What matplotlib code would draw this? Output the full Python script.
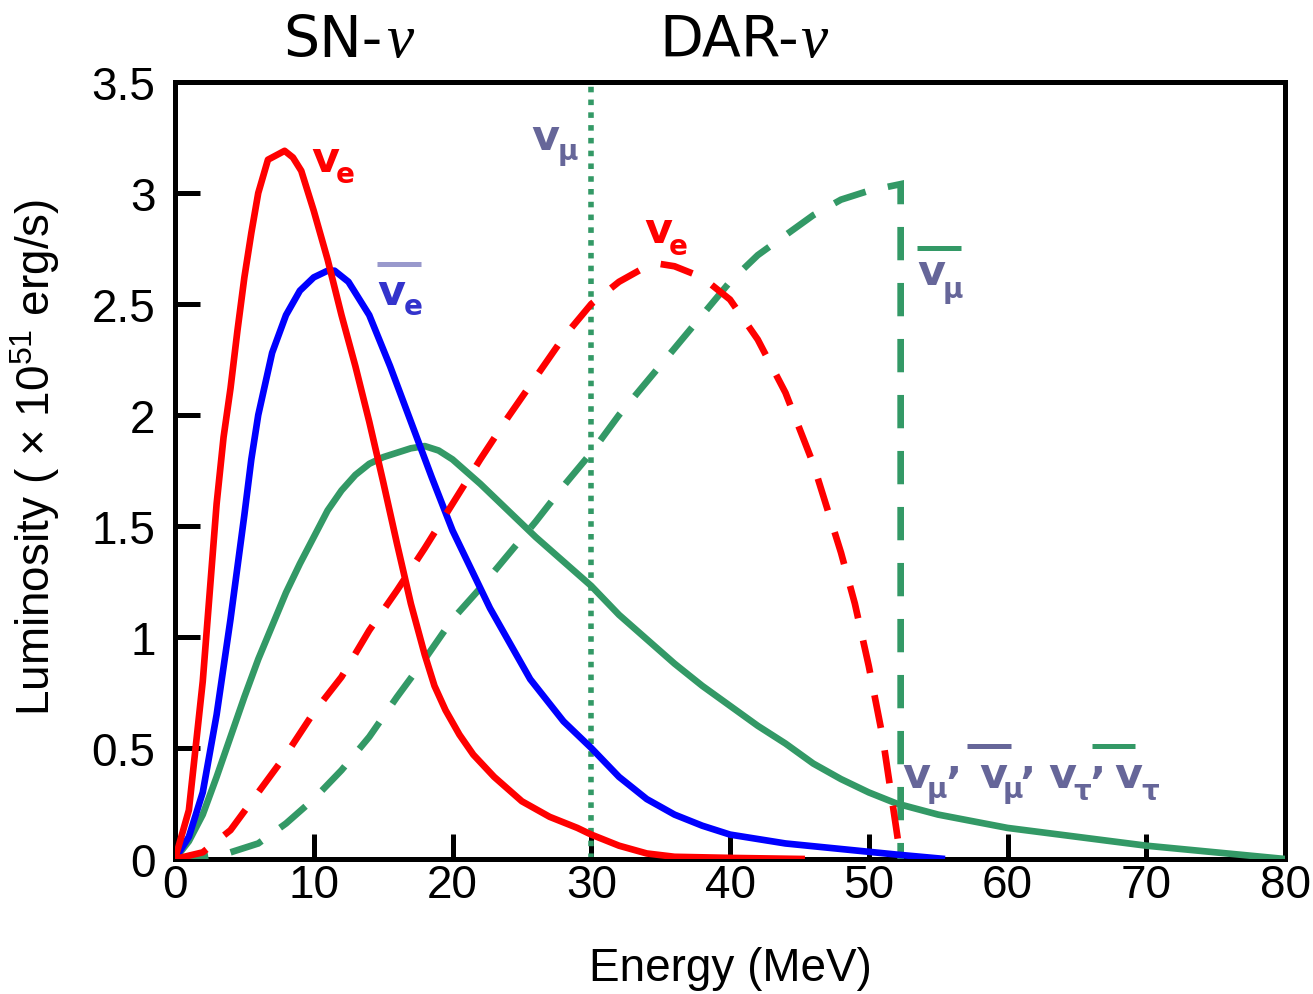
import matplotlib
matplotlib.use("Agg")
import matplotlib.pyplot as plt
from matplotlib.lines import Line2D

# ---------------- data ----------------
sn_nue_E = [0, 1, 2, 2.5, 3, 3.5, 4, 4.5, 5, 5.5, 6, 6.7, 7.3, 7.9, 8.5, 9.1, 10, 11, 12, 13,
            14, 15, 16, 17, 18, 18.7, 19.5, 20.5, 21.5, 23, 25, 27, 29, 30, 32, 34, 36, 40, 45.4]
sn_nue_L = [0, 0.22, 0.8, 1.2, 1.6, 1.9, 2.12, 2.38, 2.62, 2.82, 3.0, 3.15, 3.17, 3.19, 3.16,
            3.1, 2.92, 2.7, 2.45, 2.22, 1.97, 1.7, 1.42, 1.15, 0.92, 0.78, 0.67, 0.56, 0.47,
            0.37, 0.26, 0.19, 0.14, 0.11, 0.06, 0.025, 0.01, 0.005, 0]

sn_anue_E = [0, 1, 2, 3, 4, 5, 5.5, 6, 7, 8, 9, 10, 11, 11.5, 12.5, 14, 15.5, 17, 18.5, 20,
             22.7, 25.6, 28, 30, 32, 34, 36, 38, 40, 44, 48, 52, 55.5]
sn_anue_L = [0, 0.1, 0.3, 0.65, 1.08, 1.55, 1.8, 2.0, 2.28, 2.45, 2.56, 2.62, 2.65, 2.65, 2.6,
             2.45, 2.22, 1.97, 1.72, 1.48, 1.13, 0.81, 0.62, 0.5, 0.37, 0.27, 0.2, 0.15, 0.11,
             0.07, 0.045, 0.02, 0]

sn_nux_E = [0, 1, 2, 3, 4, 5, 6, 7, 8, 9, 10, 11, 12, 13, 14, 15, 16, 17, 18, 19, 20, 22, 24,
            26, 28, 30, 32, 34, 36, 38, 40, 42, 44, 46, 48, 50, 52, 55, 60, 65, 70, 75, 80]
sn_nux_L = [0, 0.08, 0.2, 0.37, 0.55, 0.73, 0.9, 1.05, 1.2, 1.33, 1.45, 1.57, 1.66, 1.73, 1.78,
            1.81, 1.83, 1.85, 1.86, 1.84, 1.8, 1.69, 1.57, 1.45, 1.34, 1.23, 1.1, 0.99, 0.88,
            0.78, 0.69, 0.6, 0.52, 0.43, 0.36, 0.3, 0.25, 0.2, 0.14, 0.1, 0.06, 0.03, 0]

dar_nue_E = [0, 2, 4, 6, 8, 10, 12, 14, 16, 18, 20, 22, 24, 26, 28, 30, 32, 34, 35, 36, 38,
             40, 42, 44, 46, 48, 49, 50, 51, 52, 52.3]
dar_nue_L = [0, 0.03, 0.13, 0.3, 0.47, 0.66, 0.82, 1.03, 1.21, 1.4, 1.6, 1.8, 1.99, 2.17, 2.35,
             2.5, 2.6, 2.67, 2.68, 2.67, 2.62, 2.52, 2.34, 2.1, 1.78, 1.38, 1.15, 0.87, 0.55,
             0.13, 0]

dar_anumu_E = [0, 2, 4, 6, 8, 10, 12, 14, 16, 18, 20, 22, 24, 26, 28, 30, 32, 34, 36, 38, 40,
               42, 44, 46, 48, 50, 52.3, 52.3]
dar_anumu_L = [0, 0.01, 0.03, 0.07, 0.16, 0.27, 0.4, 0.55, 0.73, 0.9, 1.08, 1.22, 1.37, 1.52,
               1.68, 1.83, 2.0, 2.15, 2.3, 2.45, 2.6, 2.72, 2.81, 2.9, 2.97, 3.01, 3.04, 0]

numu_line_E = 30

x_ticks = [0, 10, 20, 30, 40, 50, 60, 70, 80]
y_ticks = [0, 0.5, 1, 1.5, 2, 2.5, 3, 3.5]
y_tick_labels = ["0", "0.5", "1", "1.5", "2", "2.5", "3", "3.5"]

# ---------------- style ----------------
RED = "#ff0000"
BLUE = "#0000ff"
GREEN = "#339966"
SLATE = "#666699"
ABLUE = "#3333cc"
LAV = "#9999cc"

plt.rcParams["font.family"] = ["Liberation Sans", "DejaVu Sans"]
plt.rcParams["mathtext.fontset"] = "custom"
plt.rcParams["mathtext.rm"] = "Liberation Sans"
plt.rcParams["mathtext.it"] = "Liberation Sans:italic"

W, H = 1313, 995
fig = plt.figure(figsize=(W / 100, H / 100), dpi=100)
ax = fig.add_axes([175 / W, 1 - 860 / H, 1110 / W, 777 / H])

lw = 4.8
common = dict(lw=lw, solid_capstyle="butt", solid_joinstyle="round")
ax.plot(sn_nux_E, sn_nux_L, color=GREEN, zorder=3, **common)
ax.plot(sn_anue_E, sn_anue_L, color=BLUE, zorder=4, **common)
ax.plot(sn_nue_E, sn_nue_L, color=RED, zorder=5, **common)
ax.plot(dar_anumu_E, dar_anumu_L, color=GREEN, lw=lw, dashes=(5, 3.4),
        dash_capstyle="butt", dash_joinstyle="miter", zorder=3)
ax.plot(dar_nue_E, dar_nue_L, color=RED, lw=lw, dashes=(5, 3.4),
        dash_capstyle="butt", zorder=4)
ax.axvline(numu_line_E, color=GREEN, lw=4.0, dashes=(1, 1.3), dash_capstyle="butt", zorder=2)

ax.set_xlim(0, 80)
ax.set_ylim(0, 3.5)
ax.set_xticks(x_ticks)
ax.set_xticklabels([str(v) for v in x_ticks])
ax.set_yticks(y_ticks)
ax.set_yticklabels(y_tick_labels)
for s in ax.spines.values():
    s.set_linewidth(3.6)
ax.tick_params(direction="in", length=18, width=3.6, labelsize=33,
               top=False, right=False)
ax.tick_params(axis="y", pad=14)
ax.tick_params(axis="x", pad=3)

ax.set_xlabel("Energy (MeV)", fontsize=33, labelpad=28)
ax.set_ylabel(r"Luminosity ( × 10$^{51}$ erg/s)", fontsize=33)
ax.yaxis.set_label_coords((62 - 175) / 1110, (860 - 457) / 777)

# ---------------- annotations (figure-pixel placement) ----------------
def ftext(px, py, s, **kw):
    fig.text(px / W, 1 - py / H, s, **kw)

def fbar(x0, x1, py, color):
    fig.add_artist(Line2D([x0 / W, x1 / W], [1 - py / H] * 2, transform=fig.transFigure,
                          color=color, lw=3.6, solid_capstyle="butt"))

BIG = dict(fontsize=31, fontweight="bold", family="DejaVu Sans", va="baseline", ha="center")
SUB = dict(fontsize=20, fontweight="bold", family="DejaVu Sans", va="baseline", ha="center")

# titles
ftext(283, 57, "SN-", fontsize=41, family="DejaVu Sans", ha="left", va="baseline")
ftext(386, 57, "ν", fontsize=44, family="Liberation Serif", style="italic",
      ha="left", va="baseline")
ftext(659, 57, "DAR-", fontsize=41, family="DejaVu Sans", ha="left", va="baseline")
ftext(800, 57, "ν", fontsize=44, family="Liberation Serif", style="italic",
      ha="left", va="baseline")

# SN nu_e
ftext(325, 172, "v", color=RED, **BIG)
ftext(345, 183, "e", color=RED, **SUB)
# SN anti nu_e
fbar(377, 421, 265, LAV)
ftext(391, 305, "v", color=ABLUE, **BIG)
ftext(413, 315, "e", color=ABLUE, **SUB)
# DAR nu_mu
ftext(545, 150, "v", color=SLATE, **BIG)
ftext(568, 160, "μ", color=SLATE, **SUB)
# DAR nu_e
ftext(658, 243, "v", color=RED, **BIG)
ftext(678, 255, "e", color=RED, **SUB)
# DAR anti nu_mu
fbar(917, 961, 249, GREEN)
ftext(931, 285, "v", color=SLATE, **BIG)
ftext(953, 298, "μ", color=SLATE, **SUB)
# SN heavy flavours
ftext(916, 788, "v", color=SLATE, **BIG)
ftext(937, 798, "μ", color=SLATE, **SUB)
ftext(953, 797, "’", color=SLATE, **BIG)
fbar(967, 1011, 747, SLATE)
ftext(993, 788, "v", color=SLATE, **BIG)
ftext(1013, 798, "μ", color=SLATE, **SUB)
ftext(1027, 797, "’", color=SLATE, **BIG)
ftext(1062, 788, "v", color=SLATE, **BIG)
ftext(1082, 800, "τ", color=SLATE, **SUB)
ftext(1097, 797, "’", color=SLATE, **BIG)
fbar(1092, 1135, 747, GREEN)
ftext(1128, 788, "v", color=SLATE, **BIG)
ftext(1150, 800, "τ", color=SLATE, **SUB)

fig.savefig("out.png", dpi=100)
